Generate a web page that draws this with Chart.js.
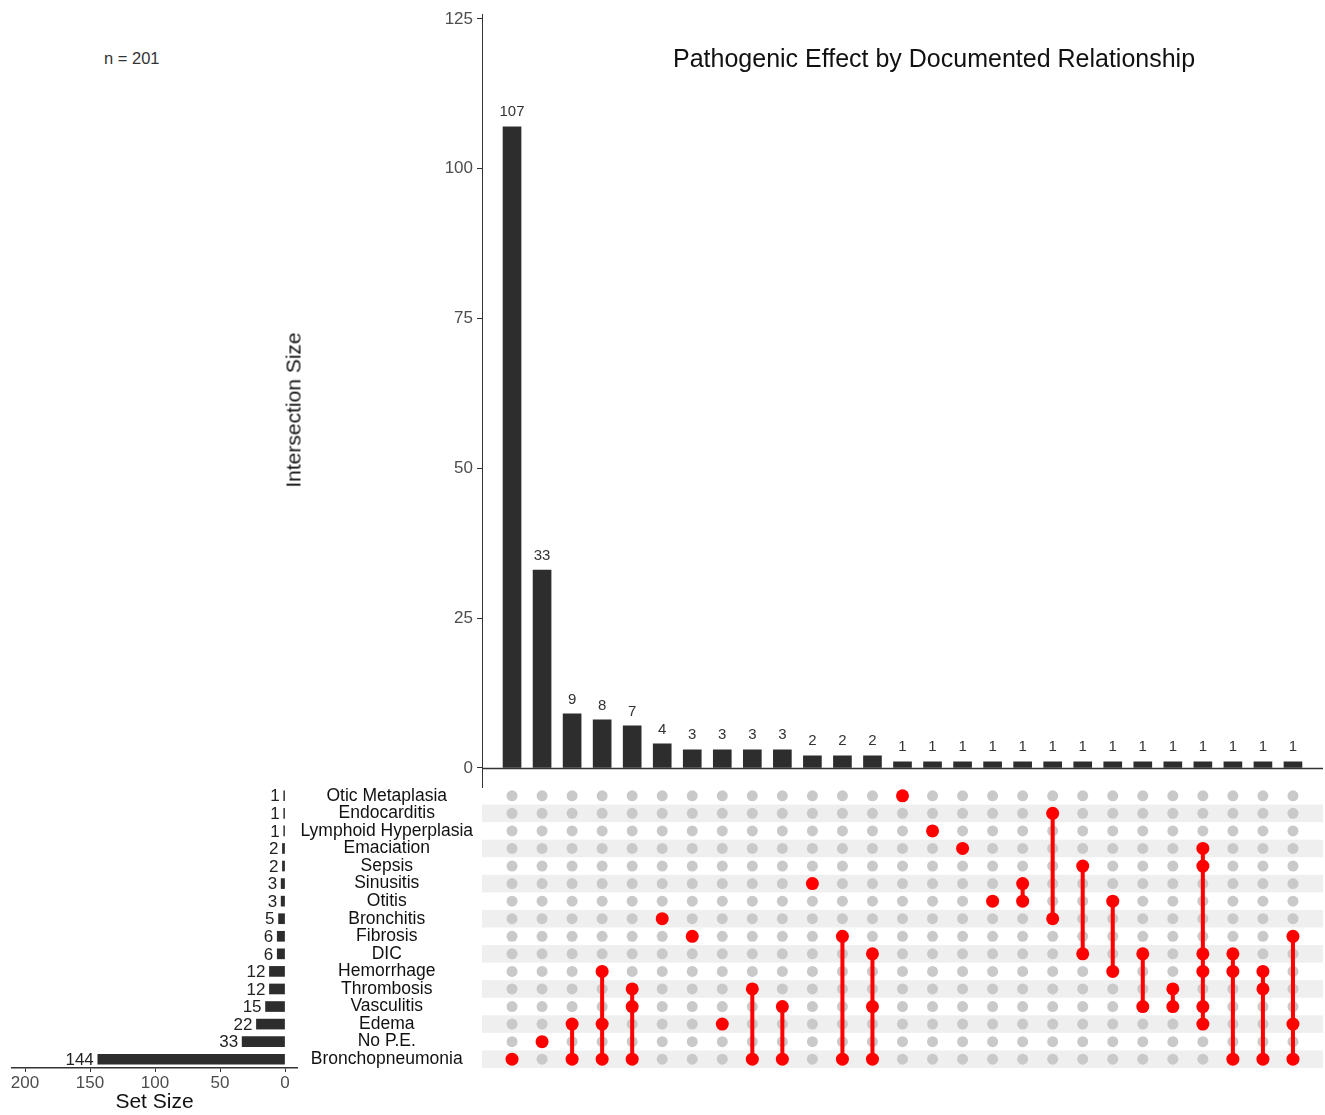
<!DOCTYPE html>
<html>
<head>
<meta charset="utf-8">
<script src="https://cdn.jsdelivr.net/npm/chart.js@4.4.1/dist/chart.umd.min.js"></script>
<style>
    body { margin: 0; background: #fff; }
    #wrap { position: relative; width: 1325px; height: 1115px; font-family: "Liberation Sans", Arial, sans-serif; }
    .box { position: absolute; }
    .txt { position: absolute; white-space: nowrap; color: #111; line-height: 1; }
</style>
</head>
<body>
<div id="wrap">
    <div class="box" style="left:280px;top:0;width:1045px;height:810px"><canvas id="bars"></canvas></div>
    <div class="box" style="left:290px;top:765px;width:1035px;height:325px"><canvas id="matrix"></canvas></div>
    <div class="box" style="left:0;top:780px;width:300px;height:335px"><canvas id="sets"></canvas></div>
    <div class="txt" style="left:104px;top:50px;font-size:16.5px;color:#333">n = 201</div>
    <div class="txt" style="left:673px;top:46px;font-size:25px">Pathogenic Effect by Documented Relationship</div>
    <div class="txt" style="left:293px;top:410px;font-size:21px;transform:translate(-50%,-50%) rotate(-90deg)">Intersection Size</div>
</div>
<script>
const setNames = ['Otic Metaplasia', 'Endocarditis', 'Lymphoid Hyperplasia', 'Emaciation', 'Sepsis', 'Sinusitis',
    'Otitis', 'Bronchitis', 'Fibrosis', 'DIC', 'Hemorrhage', 'Thrombosis', 'Vasculitis', 'Edema', 'No P.E.', 'Bronchopneumonia'];
const setSizes = [1, 1, 1, 2, 2, 3, 3, 5, 6, 6, 12, 12, 15, 22, 33, 144];

const intersectionSizes = [107, 33, 9, 8, 7, 4, 3, 3, 3, 3, 2, 2, 2, 1, 1, 1, 1, 1, 1, 1, 1, 1, 1, 1, 1, 1, 1];
const intersectionSets = [
    ['Bronchopneumonia'],
    ['No P.E.'],
    ['Edema', 'Bronchopneumonia'],
    ['Hemorrhage', 'Edema', 'Bronchopneumonia'],
    ['Thrombosis', 'Vasculitis', 'Bronchopneumonia'],
    ['Bronchitis'],
    ['Fibrosis'],
    ['Edema'],
    ['Thrombosis', 'Bronchopneumonia'],
    ['Vasculitis', 'Bronchopneumonia'],
    ['Sinusitis'],
    ['Fibrosis', 'Bronchopneumonia'],
    ['DIC', 'Vasculitis', 'Bronchopneumonia'],
    ['Otic Metaplasia'],
    ['Lymphoid Hyperplasia'],
    ['Emaciation'],
    ['Otitis'],
    ['Sinusitis', 'Otitis'],
    ['Endocarditis', 'Bronchitis'],
    ['Sepsis', 'DIC'],
    ['Otitis', 'Hemorrhage'],
    ['DIC', 'Vasculitis'],
    ['Thrombosis', 'Vasculitis'],
    ['Emaciation', 'Sepsis', 'DIC', 'Hemorrhage', 'Vasculitis', 'Edema'],
    ['DIC', 'Hemorrhage', 'Bronchopneumonia'],
    ['Hemorrhage', 'Thrombosis', 'Bronchopneumonia'],
    ['Fibrosis', 'Edema', 'Bronchopneumonia'],
];

const intersectionTicks = [0, 25, 50, 75, 100, 125];
const setSizeTicks = [0, 50, 100, 150, 200];

const colors = {
    bar: '#2d2d2d',
    axis: '#333333',
    tick: '#4d4d4d',
    dotOff: '#c9c9c9',
    dotOn: '#ff0000',
    stripe: '#efefef',
};
const FONT = '"Liberation Sans", Arial, sans-serif';

Chart.defaults.font.family = FONT;
Chart.defaults.animation = false;

// value labels drawn next to each bar
const barLabels = {
    id: 'barLabels',
    afterDatasetsDraw(chart, args, opts) {
        const { ctx } = chart;
        const meta = chart.getDatasetMeta(0);
        ctx.save();
        ctx.fillStyle = opts.color;
        ctx.font = `${opts.size}px ${FONT}`;
        meta.data.forEach((bar, i) => {
            const v = chart.data.datasets[0].data[i];
            if (opts.horizontal) {
                ctx.textAlign = 'right';
                ctx.textBaseline = 'middle';
                ctx.fillText(v.x, bar.x - 4, bar.y + 1);
            } else {
                ctx.textAlign = 'center';
                ctx.textBaseline = 'bottom';
                ctx.fillText(v.y, bar.x, bar.y - 7);
            }
        });
        ctx.restore();
    },
};

// horizontal baseline at y = 0 across the intersection plot
const zeroLine = {
    id: 'zeroLine',
    afterDatasetsDraw(chart) {
        const { ctx, chartArea } = chart;
        const y = Math.round(chart.scales.y.getPixelForValue(0)) + 0.5;
        ctx.save();
        ctx.strokeStyle = colors.axis;
        ctx.lineWidth = 1.5;
        ctx.beginPath();
        ctx.moveTo(chartArea.left, y);
        ctx.lineTo(chartArea.right, y);
        ctx.stroke();
        ctx.restore();
    },
};

// alternating row shading behind the matrix
const stripes = {
    id: 'stripes',
    beforeDatasetsDraw(chart) {
        const { ctx, chartArea } = chart;
        const y = chart.scales.y;
        ctx.save();
        ctx.fillStyle = colors.stripe;
        setNames.forEach((_, i) => {
            if (i % 2 === 0) return;
            const a = y.getPixelForValue(i - 0.5);
            const b = y.getPixelForValue(i + 0.5);
            ctx.fillRect(chartArea.left, Math.min(a, b), chartArea.right - chartArea.left, Math.abs(b - a));
        });
        ctx.restore();
    },
};

// intersection size bars
new Chart(document.getElementById('bars'), {
    type: 'bar',
    data: {
        datasets: [{
            data: intersectionSizes.map((v, i) => ({ x: i + 1, y: v })),
            backgroundColor: colors.bar,
            barThickness: 18,
        }],
    },
    options: {
        responsive: true,
        maintainAspectRatio: false,
        layout: { autoPadding: false, padding: { top: 13, right: 2, bottom: 23, left: 0 } },
        plugins: {
            legend: { display: false },
            tooltip: { enabled: false },
            barLabels: { color: '#333', size: 15 },
        },
        scales: {
            x: { type: 'linear', min: 0, max: 28, offset: false, display: false },
            y: {
                min: -3.2,
                max: 125.8,
                afterBuildTicks: (s) => { s.ticks = intersectionTicks.map((v) => ({ value: v })); },
                afterFit: (s) => { s.width = 202; },
                grid: { drawOnChartArea: false, drawTicks: true, tickLength: 5, color: colors.axis },
                border: { display: true, color: colors.axis, width: 1 },
                ticks: { color: colors.tick, font: { size: 17 }, padding: 4 },
            },
        },
    },
    plugins: [barLabels, zeroLine],
});

// membership matrix
const offDots = [];
intersectionSets.forEach((_, c) => setNames.forEach((_, r) => offDots.push({ x: c + 1, y: r })));
const onDots = [];
const links = [];
intersectionSets.forEach((members, c) => {
    const rows = members.map((m) => setNames.indexOf(m));
    rows.forEach((r) => onDots.push({ x: c + 1, y: r }));
    if (rows.length > 1) {
        links.push({
            type: 'line',
            data: [{ x: c + 1, y: Math.min(...rows) }, { x: c + 1, y: Math.max(...rows) }],
            borderColor: colors.dotOn,
            borderWidth: 4,
            pointRadius: 0,
            order: 1,
        });
    }
});

new Chart(document.getElementById('matrix'), {
    type: 'scatter',
    data: {
        datasets: [
            { data: onDots, backgroundColor: colors.dotOn, pointRadius: 6.5, borderWidth: 0, order: 0 },
            ...links,
            { data: offDots, backgroundColor: colors.dotOff, pointRadius: 5.5, borderWidth: 0, order: 2 },
        ],
    },
    options: {
        responsive: true,
        maintainAspectRatio: false,
        layout: { autoPadding: false, padding: { top: 22, right: 2, bottom: 22, left: 0 } },
        plugins: { legend: { display: false }, tooltip: { enabled: false } },
        scales: {
            x: { type: 'linear', min: 0, max: 28, display: false },
            y: {
                type: 'linear',
                min: -0.5,
                max: 15.5,
                reverse: true,
                afterBuildTicks: (s) => { s.ticks = setNames.map((_, i) => ({ value: i })); },
                afterFit: (s) => { s.width = 192; },
                grid: { display: false, drawTicks: false },
                border: { display: false },
                ticks: {
                    callback: (v) => setNames[v],
                    crossAlign: 'center',
                    padding: 9,
                    color: '#111',
                    font: { size: 17.5 },
                    autoSkip: false,
                },
            },
        },
    },
    plugins: [stripes],
});

// set size bars
new Chart(document.getElementById('sets'), {
    type: 'bar',
    data: {
        datasets: [{
            data: setSizes.map((v, i) => ({ x: v, y: i })),
            backgroundColor: colors.bar,
            barThickness: 10,
        }],
    },
    options: {
        indexAxis: 'y',
        responsive: true,
        maintainAspectRatio: false,
        layout: { padding: { top: 7, right: 3, bottom: 0, left: 12 } },
        plugins: {
            legend: { display: false },
            tooltip: { enabled: false },
            barLabels: { color: '#222', size: 17, horizontal: true },
        },
        scales: {
            x: {
                type: 'linear',
                min: -9.2,
                max: 210,
                reverse: true,
                afterBuildTicks: (s) => { s.ticks = setSizeTicks.map((v) => ({ value: v })); },
                afterFit: (s) => { s.height = 47; },
                grid: { drawOnChartArea: false, drawTicks: true, tickLength: 4, color: colors.axis },
                border: { display: true, color: colors.axis, width: 1.5 },
                ticks: { color: colors.tick, font: { size: 17 }, padding: 1, maxRotation: 0 },
                title: {
                    display: true,
                    text: 'Set Size',
                    color: '#111',
                    font: { size: 21 },
                    padding: { top: 0, bottom: 0 },
                },
            },
            y: {
                type: 'linear',
                min: -0.5,
                max: 15.5,
                reverse: true,
                offset: false,
                display: false,
            },
        },
    },
    plugins: [barLabels],
});
</script>
</body>
</html>
